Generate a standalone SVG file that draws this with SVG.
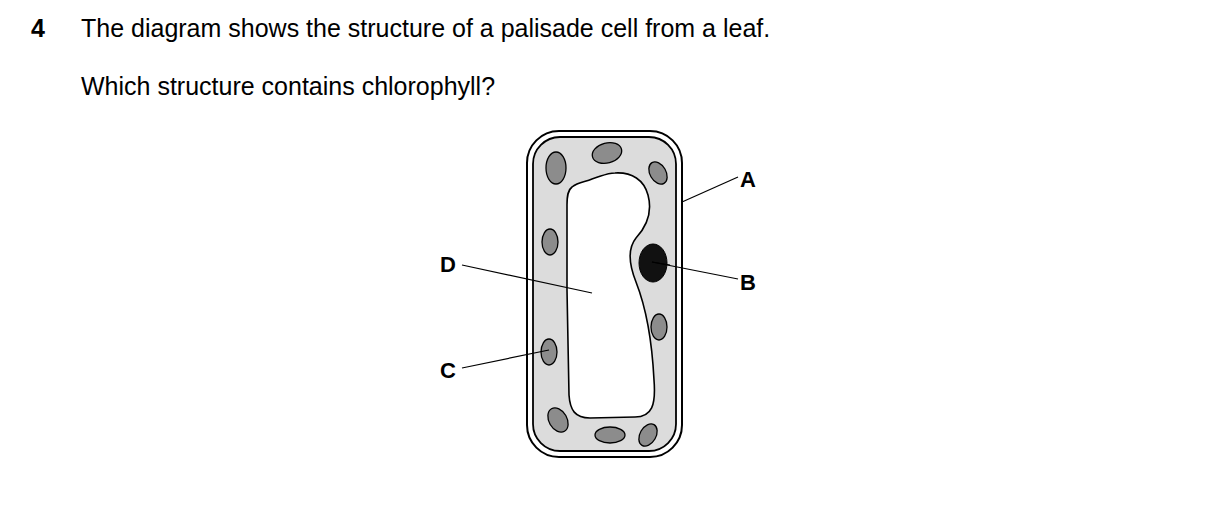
<svg xmlns="http://www.w3.org/2000/svg" width="1209" height="514" viewBox="0 0 1209 514">
<style>
text{font-family:"Liberation Sans",Arial,sans-serif;fill:#000}
.q{font-size:25px}
.lab{font-size:22px;font-weight:bold}
.cp{fill:#8c8c8c;stroke:#000;stroke-width:1.3}
.ln{stroke:#000;stroke-width:1.2;fill:none}
</style>
<rect width="1209" height="514" fill="#fff"/>
<text class="q" x="31" y="37" font-weight="bold">4</text>
<text class="q" x="81" y="37">The diagram shows the structure of a palisade cell from a leaf.</text>
<text class="q" x="81" y="95">Which structure contains chlorophyll?</text>
<g id="cell">
<rect x="527" y="131" width="155" height="326" rx="32" fill="#fff" stroke="#000" stroke-width="2"/>
<rect x="533" y="137" width="143" height="314" rx="27" fill="#dcdcdc" stroke="#000" stroke-width="1.8"/>
<path d="M572,187 C578,182 585,182 592,179 C602,176 607,173 615,173 C632,172 644,180 648,195 C652,210 648,225 636,238 C628,248 628,262 636,282 C645,305 652,340 654,380 C656,405 652,417 635,417 L590,418 C575,418 570,410 569,395 L567,290 L567,205 C567,195 568,190 572,187 Z" fill="#fff" stroke="#000" stroke-width="1.6"/>
<ellipse class="cp" cx="556" cy="168" rx="10" ry="16"/>
<ellipse class="cp" cx="607" cy="153" rx="15" ry="10" transform="rotate(-15 607 153)"/>
<ellipse class="cp" cx="658" cy="173" rx="8" ry="12" transform="rotate(-30 658 173)"/>
<ellipse class="cp" cx="550" cy="242" rx="8" ry="13"/>
<ellipse cx="653" cy="263" rx="14" ry="19" fill="#111" stroke="#000"/>
<ellipse class="cp" cx="659" cy="327" rx="8" ry="13"/>
<ellipse class="cp" cx="549" cy="352" rx="8" ry="13"/>
<ellipse class="cp" cx="558" cy="420" rx="9" ry="13" transform="rotate(-30 558 420)"/>
<ellipse class="cp" cx="610" cy="435" rx="15" ry="8"/>
<ellipse class="cp" cx="648" cy="435" rx="8" ry="12" transform="rotate(30 648 435)"/>
</g>
<g id="connectors">
<line class="ln" x1="682" y1="202" x2="738" y2="177"/>
<line class="ln" x1="652" y1="262" x2="738" y2="279"/>
<line class="ln" stroke="#fff" stroke-width="0.6" x1="652" y1="262" x2="670" y2="265"/>
<line class="ln" x1="462" y1="265" x2="592" y2="293"/>
<line class="ln" x1="462" y1="368" x2="549" y2="350"/>
</g>
<g id="labels">
<text class="lab" x="740" y="187">A</text>
<text class="lab" x="740" y="290">B</text>
<text class="lab" x="440" y="272">D</text>
<text class="lab" x="440" y="378">C</text>
</g>
</svg>
